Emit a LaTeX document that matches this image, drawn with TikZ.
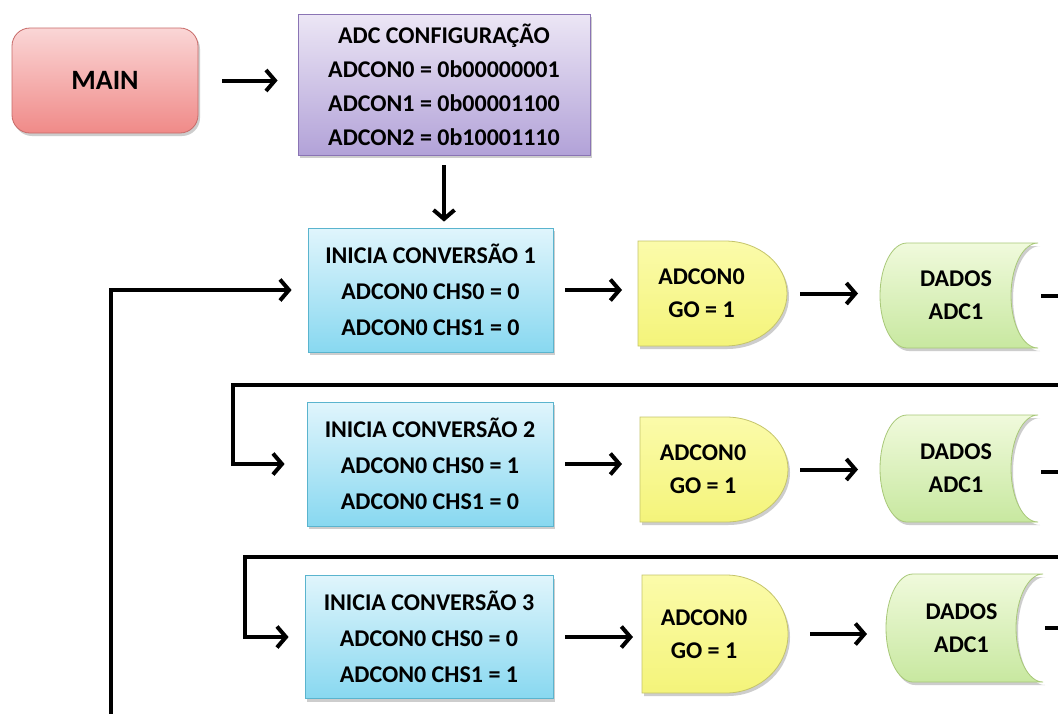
\documentclass[tikz,border=0pt]{standalone}
\usepackage{fontspec}
\setmainfont{Carlito}
\usetikzlibrary{arrows.meta,shadows,calc}

\definecolor{mainTop}{HTML}{FAD6D6}
\definecolor{mainBot}{HTML}{F08A88}
\definecolor{mainLine}{HTML}{C86A68}
\definecolor{cfgTop}{HTML}{ECE6F5}
\definecolor{cfgBot}{HTML}{B2A2D8}
\definecolor{cfgLine}{HTML}{8A74B4}
\definecolor{iniTop}{HTML}{E0F5FC}
\definecolor{iniBot}{HTML}{88D8F0}
\definecolor{iniLine}{HTML}{5AB4CE}
\definecolor{goTop}{HTML}{FBFBAA}
\definecolor{goBot}{HTML}{F4F47A}
\definecolor{goLine}{HTML}{C4C46A}
\definecolor{stTop}{HTML}{F0FADC}
\definecolor{stBot}{HTML}{C8E8A0}
\definecolor{stLine}{HTML}{A8C878}

% arc depths of the two flowchart symbols
\def\drx{62}
\def\sa{27}

% "delay" symbol: flat left side, elliptical right side
% #1 name, #2 left, #3 top, #4 right, #5 bottom, #6 text
\newcommand\delayshape[6]{%
  \pgfmathsetmacro\dM{(#3+#5)/2}%
  \pgfmathsetmacro\dH{(#5-#3)/2}%
  \pgfmathsetmacro\dC{#4-\drx}%
  \path[gofill] (#2,#3) -- (\dC,#3)
    .. controls ({\dC+0.552*\drx},#3) and (#4,{\dM-0.552*\dH}) .. (#4,\dM)
    .. controls (#4,{\dM+0.552*\dH}) and ({\dC+0.552*\drx},#5) .. (\dC,#5)
    -- (#2,#5) -- cycle;
  \node[ghost, minimum width={(#4-#2)*1pt}, minimum height={(#5-#3)*1pt}]
    (#1) at ({(#2+#4)/2},\dM) {};
  \node[txt, smalltxt] (#1-text) at ({(#2+#4)/2-11},\dM) {#6};
}

% "stored data" symbol: convex left side, concave right side
\newcommand\storeshape[6]{%
  \pgfmathsetmacro\sM{(#3+#5)/2}%
  \pgfmathsetmacro\sH{(#5-#3)/2}%
  \pgfmathsetmacro\sLa{#2+\sa}%
  \pgfmathsetmacro\sRa{#4-\sa}%
  \path[stfill] (\sLa,#3) -- (#4,#3)
    .. controls ({#4-0.552*\sa},#3) and (\sRa,{\sM-0.552*\sH}) .. (\sRa,\sM)
    .. controls (\sRa,{\sM+0.552*\sH}) and ({#4-0.552*\sa},#5) .. (#4,#5)
    -- (\sLa,#5)
    .. controls ({\sLa-0.552*\sa},#5) and (#2,{\sM+0.552*\sH}) .. (#2,\sM)
    .. controls (#2,{\sM-0.552*\sH}) and ({\sLa-0.552*\sa},#3) .. (\sLa,#3)
    -- cycle;
  \node[ghost, minimum width={(#4-#2)*1pt}, minimum height={(#5-#3)*1pt}]
    (#1) at ({(#2+#4)/2},\sM) {};
  \node[txt, smalltxt] (#1-text) at ({(#2+#4)/2-3},\sM) {#6};
}

\begin{document}
\begin{tikzpicture}[x=1pt, y=-1pt,
  txt/.style={font=\fontsize{24}{36}\selectfont\bfseries, align=center, text=black},
  smalltxt/.style={font=\fontsize{24}{33}\selectfont\bfseries},
  shade/.style={drop shadow={opacity=0.28, shadow xshift=2pt, shadow yshift=-3pt, fill=black!70}},
  mainbox/.style={txt, font=\fontsize{28}{34}\selectfont\bfseries, rounded corners=18pt,
    draw=mainLine, line width=0.8pt, top color=mainTop, bottom color=mainBot, shade},
  cfgbox/.style={txt, font=\fontsize{24}{34}\selectfont\bfseries, draw=cfgLine, line width=0.8pt,
    top color=cfgTop, bottom color=cfgBot, shade},
  inibox/.style={txt, draw=iniLine, line width=0.8pt,
    top color=iniTop, bottom color=iniBot, shade},
  gofill/.style={draw=goLine, line width=0.8pt, top color=goTop, bottom color=goBot, shade},
  stfill/.style={draw=stLine, line width=0.8pt, top color=stTop, bottom color=stBot, shade},
  ghost/.style={draw=none, fill=none, inner sep=0pt, outer sep=0pt},
  flow/.style={line width=4pt, black},
  arr/.style={flow, -{Straight Barb[length=9pt, width=21pt]}},
]
\useasboundingbox (0,0) rectangle (1058,713);
\fill[white] (0,0) rectangle (1058,713);
\clip (0,0) rectangle (1058,713);

% top row
\node[mainbox, minimum width=186pt, minimum height=105pt] (main) at (105,80.5) {MAIN};
\node[cfgbox, minimum width=292pt, minimum height=141pt] (cfg) at (444,84.5)
  {ADC CONFIGURAÇÃO\\ADCON0 = 0b00000001\\ADCON1 = 0b00001100\\ADCON2 = 0b10001110};

% conversion steps
\node[inibox, minimum width=245pt, minimum height=124pt] (ini1) at (430.5,290)
  {INICIA CONVERSÃO 1\\ADCON0 CHS0 = 0\\ADCON0 CHS1 = 0};
\node[inibox, minimum width=246pt, minimum height=124pt] (ini2) at (430,464)
  {INICIA CONVERSÃO 2\\ADCON0 CHS0 = 1\\ADCON0 CHS1 = 0};
\node[inibox, minimum width=248pt, minimum height=123pt] (ini3) at (429,637)
  {INICIA CONVERSÃO 3\\ADCON0 CHS0 = 0\\ADCON0 CHS1 = 1};

% start bit
\delayshape{go1}{638}{241}{787}{346}{ADCON0\\GO = 1}
\delayshape{go2}{640}{417}{788}{522}{ADCON0\\GO = 1}
\delayshape{go3}{642}{575}{788}{693}{ADCON0\\GO = 1}

% results
\storeshape{st1}{880}{243}{1038}{348}{DADOS\\ADC1}
\storeshape{st2}{880}{415}{1038}{522}{DADOS\\ADC1}
\storeshape{st3}{886}{574}{1043}{682}{DADOS\\ADC1}

% loose ends leaving the picture
\coordinate (out1) at (1075,296);
\coordinate (out2) at (1075,472);
\coordinate (out3) at (1075,628);
\coordinate (back2) at (1075,385);
\coordinate (turn2) at (233,385);
\coordinate (back3) at (1075,557);
\coordinate (turn3) at (245,557);
\coordinate (back1) at (111,740);

% connectors
\draw[arr, shorten <=24pt, shorten >=20pt] (main.east) -- (main.east -| cfg.west);
\draw[arr, shorten <=10pt, shorten >=6pt] (cfg.south) -- (cfg.south |- ini1.north);

\draw[arr, shorten <=12pt, shorten >=16pt] (ini1.east) -- (ini1.east -| go1.west);
\draw[arr, shorten <=13pt, shorten >=22pt] (go1.east) -- (go1.east -| st1.west);
\draw[flow, shorten <=3pt] (st1.east |- out1) -- (out1);

\draw[arr, shorten <=12pt, shorten >=18pt] (ini2.east) -- (ini2.east -| go2.west);
\draw[arr, shorten <=12pt, shorten >=22pt] (go2.east) -- (go2.east -| st2.west);
\draw[flow, shorten <=3pt] (st2.east |- out2) -- (out2);

\draw[arr, shorten <=12pt, shorten >=9pt] (ini3.east) -- (ini3.east -| go3.west);
\draw[arr, shorten <=22pt, shorten >=19pt] (go3.east) -- (go3.east -| st3.west);
\draw[flow, shorten <=2pt] (st3.east |- out3) -- (out3);

% feedback paths
\draw[arr, shorten >=16pt] (back1) |- (ini1.west);
\draw[arr, shorten >=22pt] (back2) -- (turn2) |- (ini2.west);
\draw[arr, shorten >=16pt] (back3) -- (turn3) |- (ini3.west);
\end{tikzpicture}
\end{document}
